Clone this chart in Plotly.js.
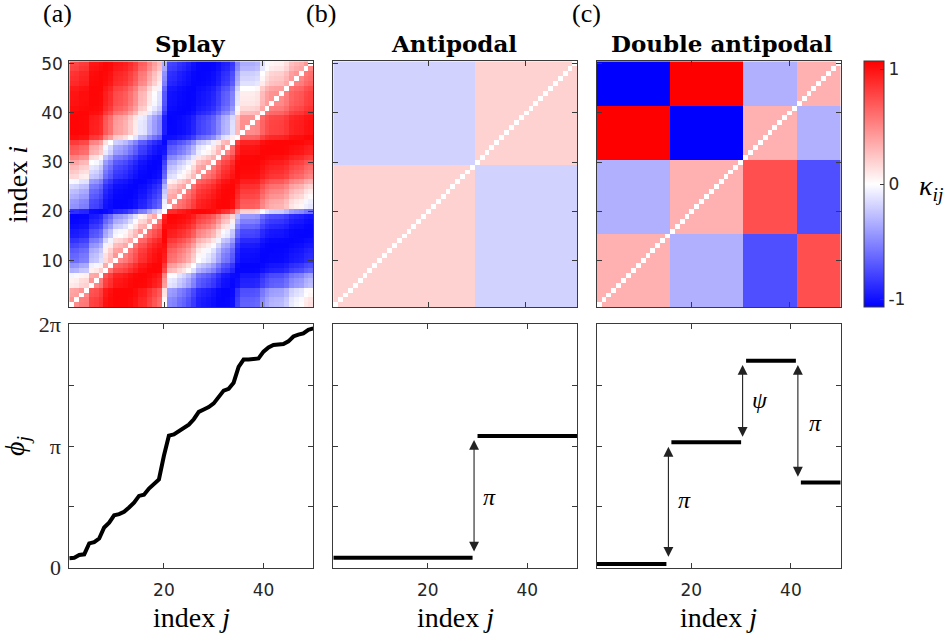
<!DOCTYPE html>
<html><head><meta charset="utf-8">
<script src="https://cdn.plot.ly/plotly-3.0.1.min.js"></script>
<style>html,body{margin:0;padding:0;background:#fff}#plot{width:949px;height:637px}</style>
</head><body><div id="plot"></div>
<script>
// ---------------- data (phases in units of pi) ----------------
const indices = Array.from({length:50},(_,k)=>k+1);
const splayPhase = [0.077,0.082,0.104,0.11,0.20,0.21,0.24,0.33,0.37,0.43,
                    0.44,0.46,0.495,0.535,0.59,0.60,0.65,0.69,0.725,0.92,
                    1.085,1.095,1.125,1.145,1.175,1.22,1.28,1.30,1.32,1.35,
                    1.40,1.455,1.47,1.52,1.65,1.71,1.71,1.712,1.72,1.775,
                    1.81,1.83,1.835,1.838,1.86,1.90,1.915,1.925,1.955,1.967];
const splayGain = 1.05;
const splayLag = 0.35;
const antiGroupEnd = [29, 50];
const antiPhase = [0.082, 1.082];
const antiBlock = [[0.19,-0.19],[-0.19,0.19]];          // rows: group of i, cols: group of j
const dblGroupEnd = [15, 30, 41, 50];
const dblPhase = [0.03, 1.03, 1.70, 0.70];
const dblBlock = [[ 0.33,-0.33,-0.74, 0.74],
                  [-0.33, 0.33, 0.74,-0.74],
                  [ 1.07,-1.07, 0.33,-0.33],
                  [-1.07, 1.07,-0.33, 0.33]];
const kappaTicks = [-1, 0, 1];
const kappaTickText = ['-1','0','1'];
const phaseTickVals = [0, 1, 2];
const phaseTickText = ['0','π','2π'];
const phaseMinorTicks = [0.5, 1.5];
const jTicks = [20, 40];
const iTicks = [10, 20, 30, 40, 50];
const titles = ['Splay','Antipodal','Double antipodal'];
const panelTags = ['(a)','(b)','(c)'];

// ---------------- helpers ----------------
const PI = Math.PI;
function groupOf(k, ends){ for(let g=0; g<ends.length; g++){ if(k<=ends[g]) return g; } return ends.length-1; }
function blockMatrix(ends, block){
  return indices.map(i => indices.map(j => i===j ? 0 : block[groupOf(i,ends)][groupOf(j,ends)]));
}
function splayMatrix(){
  return indices.map(i => indices.map(j => i===j ? 0 :
    splayGain*Math.cos(PI*(splayPhase[j-1]-splayPhase[i-1]) - PI*splayLag)));
}
function groupLine(ends, phase){
  const x=[], y=[];
  indices.forEach(k=>{
    const g = groupOf(k,ends);
    if(k>1 && groupOf(k-1,ends)!==g){ x.push(null); y.push(null); }
    x.push(k); y.push(phase[g]*PI);
  });
  return {x,y};
}
const W=949, H=637;
const px = v => v/W, py = v => 1 - v/H;

const cscale = [[0,'rgb(0,0,255)'],[0.5,'rgb(255,255,255)'],[1,'rgb(255,0,0)']];
const ZR = 1.07;

const SERIF = '"Liberation Serif", "Times New Roman", "DejaVu Serif", serif';
const axCol = '#3a3a3a';
const tickFont = {family:'DejaVu Sans', size:17, color:'#262626'};
const serifTick = {family:SERIF, size:22, color:'#262626'};

function hm(z, n, showscale){
  const t = {type:'heatmap', x:indices, y:indices, z:z, colorscale:cscale, zmin:-ZR, zmax:ZR,
    zsmooth:false, showscale:!!showscale, xaxis:'x'+(n===1?'':n), yaxis:'y'+(n===1?'':n), hoverinfo:'skip'};
  if(showscale){
    t.colorbar = {x:px(864.3), xanchor:'left', xpad:0, ypad:0, thickness:19.7, thicknessmode:'pixels',
      len:(307.3-61.3)/H, lenmode:'fraction', y:py(307.3), yanchor:'bottom',
      tickvals:kappaTicks, ticktext:kappaTickText, ticks:'inside', ticklen:4, tickcolor:axCol,
      outlinecolor:axCol, outlinewidth:1, tickfont:tickFont};
  }
  return t;
}
const lineStyle = {color:'#000', width:4};
const splayLine = {type:'scatter', mode:'lines', x:indices, y:splayPhase.map(v=>v*PI), line:lineStyle, xaxis:'x4', yaxis:'y4', hoverinfo:'skip', showlegend:false};
const aL = groupLine(antiGroupEnd, antiPhase);
const antiLine = {type:'scatter', mode:'lines', x:aL.x, y:aL.y, connectgaps:false, line:lineStyle, xaxis:'x5', yaxis:'y5', hoverinfo:'skip', showlegend:false};
const dL = groupLine(dblGroupEnd, dblPhase);
const dblLine = {type:'scatter', mode:'lines', x:dL.x, y:dL.y, connectgaps:false, line:lineStyle, xaxis:'x6', yaxis:'y6', hoverinfo:'skip', showlegend:false};

const data = [hm(splayMatrix(),1,false), hm(blockMatrix(antiGroupEnd,antiBlock),2,false),
              hm(blockMatrix(dblGroupEnd,dblBlock),3,true), splayLine, antiLine, dblLine];

const xd = [[px(69.3),px(313.3)],[px(333.3),px(577.0)],[px(596.7),px(840.7)]];
const ydTop = [py(307.3), py(61.3)];
const ydBot = [py(567.7), py(324.3)];

function baseAx(extra){
  return Object.assign({showline:true, mirror:'ticks', linecolor:axCol, linewidth:1, ticks:'inside',
    ticklen:5, tickcolor:axCol, tickwidth:1, showgrid:false, zeroline:false, fixedrange:true,
    tickfont:tickFont}, extra);
}
const layout = {width:W, height:H, margin:{l:0,r:0,t:0,b:0}, paper_bgcolor:'#fff', plot_bgcolor:'#fff',
  showlegend:false, annotations:[]};
for(let p=0;p<3;p++){
  const s = p===0?'':String(p+1);
  layout['xaxis'+s] = baseAx({domain:xd[p], range:[0.5,50.5], tickvals:jTicks, showticklabels:false, anchor:'y'+s});
  layout['yaxis'+s] = baseAx({domain:ydTop, range:[0.5,50.5], tickvals:iTicks, showticklabels:p===0, anchor:'x'+s, ticklabelstandoff:2});
  const b = String(p+4);
  layout['xaxis'+b] = baseAx({domain:xd[p], range:[1,50], tickvals:jTicks, anchor:'y'+b, ticklabelstandoff:7});
  layout['yaxis'+b] = baseAx({domain:ydBot, range:[0,2*PI], tickvals:phaseTickVals.map(v=>v*PI), ticktext:phaseTickText,
    showticklabels:p===0, tickfont:serifTick, anchor:'x'+b, ticklabelstandoff:3,
    minor:{tickvals:phaseMinorTicks.map(v=>v*PI), ticks:'inside', ticklen:5, tickcolor:axCol, showgrid:false}});
}

const ann = layout.annotations;
const titleX = [190, 454, 721.7], tagX = [57.5, 321, 586];
for(let p=0;p<3;p++){
  ann.push({xref:'paper', yref:'paper', x:px(titleX[p]), y:py(43.5), text:'<b>'+titles[p]+'</b>', showarrow:false,
    xanchor:'center', yanchor:'middle', font:{family:'DejaVu Serif', size:23, color:'#000'}});
  ann.push({xref:'paper', yref:'paper', x:px(tagX[p]), y:py(13), text:panelTags[p], showarrow:false,
    xanchor:'center', yanchor:'middle', font:{family:SERIF, size:26, color:'#000'}});
  ann.push({xref:'paper', yref:'paper', x:(xd[p][0]+xd[p][1])/2, y:py(617), text:'index <i>j</i>', showarrow:false,
    xanchor:'center', yanchor:'middle', font:{family:SERIF, size:28, color:'#000'}});
}
ann.push({xref:'paper', yref:'paper', x:px(17), y:py(185), text:'index <i>i</i>', textangle:-90, showarrow:false,
  xanchor:'center', yanchor:'middle', font:{family:SERIF, size:28, color:'#000'}});
ann.push({xref:'paper', yref:'paper', x:px(16), y:py(446), text:'<i>ϕ<sub>j</sub></i>', textangle:-90, showarrow:false,
  xanchor:'center', yanchor:'middle', font:{family:SERIF, size:28, color:'#000'}});
ann.push({xref:'paper', yref:'paper', x:px(931), y:py(188), text:'<i>κ<sub>ij</sub></i>', showarrow:false,
  xanchor:'center', yanchor:'middle', font:{family:SERIF, size:28, color:'#000'}});

// double-headed arrows (coordinates in data units: j, phase/pi)
const arrows = [
  {ax:'5', x:29.3, y0:0.12, y1:1.05, lx:32.5, ly:0.583, t:'π'},
  {ax:'6', x:15.4, y0:0.077, y1:0.994, lx:18.6, ly:0.556, t:'π'},
  {ax:'6', x:30.3, y0:1.063, y1:1.666, lx:33.8, ly:1.378, t:'ψ'},
  {ax:'6', x:41.4, y0:0.735, y1:1.666, lx:45.0, ly:1.187, t:'π'}
];
arrows.forEach(a=>{
  ann.push({xref:'x'+a.ax, yref:'y'+a.ax, axref:'x'+a.ax, ayref:'y'+a.ax, x:a.x, y:a.y1*PI, ax:a.x, ay:a.y0*PI,
    text:'', showarrow:true, arrowside:'end+start', arrowhead:2, startarrowhead:2, arrowsize:1.8, startarrowsize:1.8,
    arrowwidth:1.1, arrowcolor:'#222', standoff:0, startstandoff:0});
  ann.push({xref:'x'+a.ax, yref:'y'+a.ax, x:a.lx, y:a.ly*PI, text:'<i>'+a.t+'</i>', showarrow:false,
    xanchor:'center', yanchor:'middle', font:{family:SERIF, size:24, color:'#000'}});
});

Plotly.newPlot('plot', data, layout, {displayModeBar:false, staticPlot:true});
</script></body></html>
